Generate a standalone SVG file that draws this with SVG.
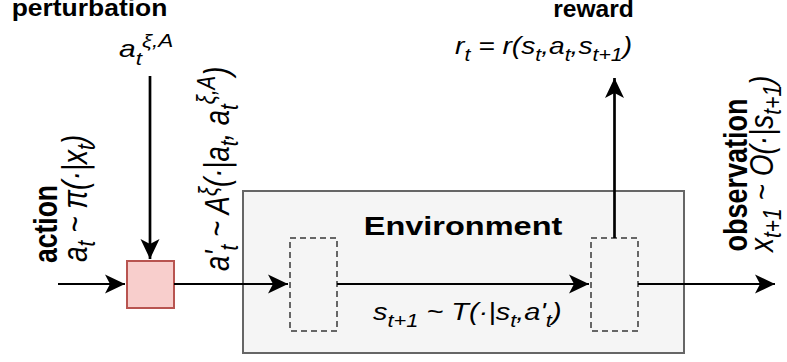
<svg xmlns="http://www.w3.org/2000/svg" width="787" height="362" viewBox="0 0 787 362">
<defs>
<style>
text{font-family:"Liberation Sans",Arial,sans-serif;fill:#000}
.b{font-weight:bold}
.m{font-style:italic}
.h{stroke:#000;stroke-width:2.2;fill:none}
.v{stroke:#000;stroke-width:2.7;fill:none}
.env{fill:#f5f5f5;stroke:#666;stroke-width:2}
.port{fill:none;stroke:#666;stroke-width:2;stroke-dasharray:6 4}
.pert{fill:#f8cecc;stroke:#b85450;stroke-width:2}
</style>
<marker id="ah" viewBox="-20 -10 22 20" refX="0" refY="0" markerUnits="userSpaceOnUse" markerWidth="22" markerHeight="20" orient="auto">
<path d="M0,0 L-20,-9.5 L-15,0 L-20,9.5 Z" fill="#000"/>
</marker>
</defs>

<g id="environment">
<rect class="env" x="243" y="191" width="441" height="162"/>
<text class="b" font-size="26" text-anchor="middle" transform="translate(463,234.5) scale(1.25,1)">Environment</text>
</g>
<g id="port-in">
<rect class="port" x="290" y="238" width="47" height="93"/>
</g>
<g id="port-out">
<rect class="port" x="591" y="238" width="47" height="93"/>
</g>
<g id="perturber">
<rect class="pert" x="127" y="261" width="47" height="47"/>
</g>

<g id="connectors">
<path class="h" d="M58,284 H125" marker-end="url(#ah)"/>
<path class="v" d="M150,76 V259" marker-end="url(#ah)"/>
<path class="h" d="M174,284 H288" marker-end="url(#ah)"/>
<path class="h" d="M337,284 H589" marker-end="url(#ah)"/>
<path class="v" d="M614.5,238 V78" marker-end="url(#ah)"/>
<path class="h" d="M638,284 H775" marker-end="url(#ah)"/>
</g>

<g id="label-perturbation">
<text class="b" font-size="23" text-anchor="middle" transform="translate(89.5,16) scale(1.15,1)">perturbation</text>
<text class="m" font-size="24" transform="translate(119,56.7) scale(1.25,1)">a<tspan font-size="18" dy="8">t</tspan><tspan font-size="18" dy="-18">ξ,A</tspan></text>
</g>
<g id="label-reward">
<text class="b" font-size="23" text-anchor="middle" transform="translate(593.5,17) scale(1.07,1)">reward</text>
<text class="m" font-size="24.5" transform="translate(455,54) scale(1.15,1)">r<tspan font-size="18.5" dy="7">t</tspan><tspan dy="-7"> = r(s</tspan><tspan font-size="18.5" dy="7">t</tspan><tspan dy="-7">,a</tspan><tspan font-size="18.5" dy="7">t</tspan><tspan dy="-7">,s</tspan><tspan font-size="18.5" dy="7">t+1</tspan><tspan dy="-7">)</tspan></text>
</g>
<g id="label-action">
<text class="b" font-size="26.5" text-anchor="middle" transform="translate(56.7,224) scale(1.25,1) rotate(-90)">action</text>
<text class="m" font-size="28" transform="translate(86.7,262) scale(1.25,1) rotate(-90)">a<tspan font-size="21" dy="7">t</tspan><tspan dy="-7"> ~ π(·|x</tspan><tspan font-size="21" dy="7">t</tspan><tspan dy="-7">)</tspan></text>
</g>
<g id="label-perturbed-action">
<text class="m" font-size="27.5" transform="translate(229,271) scale(1.25,1) rotate(-90)">a'<tspan font-size="20.5" dy="7">t</tspan><tspan dy="-7"> ~ A</tspan><tspan font-size="20.5" dy="-10">ξ</tspan><tspan dy="10">(·|a</tspan><tspan font-size="20.5" dy="7">t</tspan><tspan dy="-7">, a</tspan><tspan font-size="20.5" dy="7">t</tspan><tspan font-size="20.5" dy="-18">ξ,A</tspan><tspan dy="11">)</tspan></text>
</g>
<g id="label-transition">
<text class="m" font-size="24.5" transform="translate(373,320) scale(1.18,1)">s<tspan font-size="18.5" dy="7">t+1</tspan><tspan dy="-7"> ~ T(·|s</tspan><tspan font-size="18.5" dy="7">t</tspan><tspan dy="-7">,a'</tspan><tspan font-size="18.5" dy="7">t</tspan><tspan dy="-7">)</tspan></text>
</g>
<g id="label-observation">
<text class="b" font-size="27" text-anchor="middle" transform="translate(747,175) scale(1.25,1) rotate(-90)">observation</text>
<text class="m" font-size="28" transform="translate(773,252) scale(1.2,1) rotate(-90)">x<tspan font-size="21" dy="7">t+1</tspan><tspan dy="-7"> ~ O(·|s</tspan><tspan font-size="21" dy="7">t+1</tspan><tspan dy="-7">)</tspan></text>
</g>
</svg>
